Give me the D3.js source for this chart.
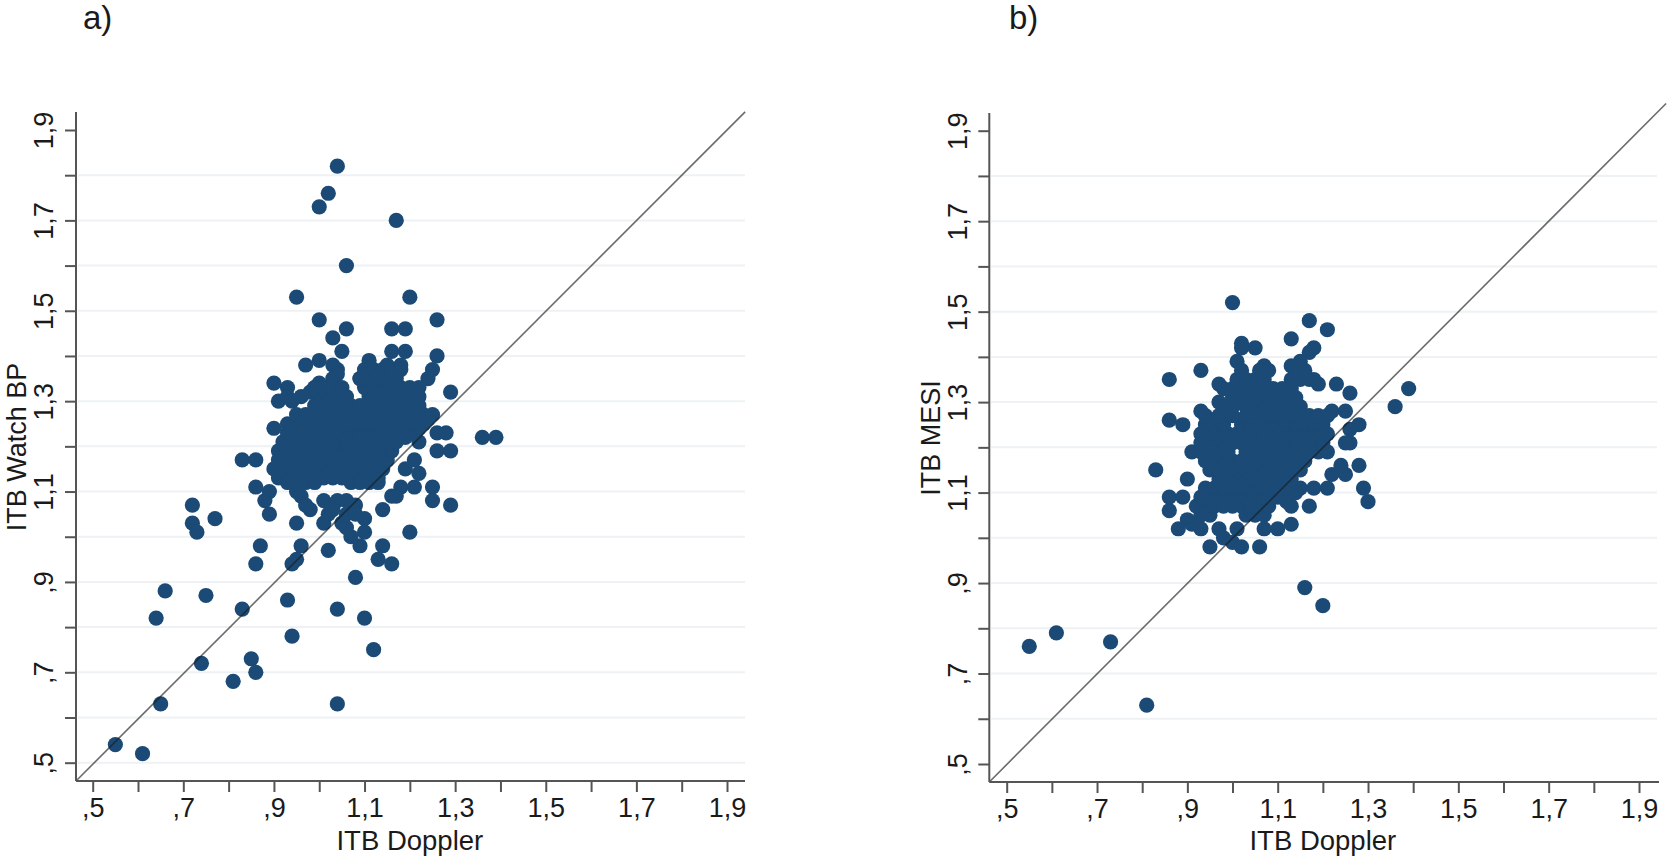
<!DOCTYPE html>
<html>
<head>
<meta charset="utf-8">
<script src="https://cdn.jsdelivr.net/npm/d3@7"></script>
<style>
html, body { margin: 0; padding: 0; background: #fff; }
svg { display: block; }
text { font-family: "Liberation Sans", Arial, sans-serif; fill: #1a1a1a; }
</style>
</head>
<body>
<svg id="chart" width="1667" height="860"></svg>
<script>
// tick values, the axes run from ,5 to 1,9 with a label every 0.2
const tickValues = [.5, .6, .7, .8, .9, 1, 1.1, 1.2, 1.3, 1.4, 1.5, 1.6, 1.7, 1.8, 1.9];
const labelledTicks = [.5, .7, .9, 1.1, 1.3, 1.5, 1.7, 1.9];

// panel a: scattered points [doppler, watch bp]
const watchScatter = [
  [1.04,1.82],[1.02,1.76],[1.00,1.73],[1.17,1.70],[1.06,1.60],[.95,1.53],[1.20,1.53],[1.00,1.48],[1.26,1.48],
  [1.06,1.46],[1.16,1.46],[1.19,1.46],[1.03,1.44],[1.05,1.41],[1.16,1.41],[1.19,1.41],[1.26,1.40],[.97,1.38],
  [1.00,1.39],[1.03,1.38],[1.04,1.37],[1.11,1.39],[1.15,1.38],[1.18,1.38],[1.25,1.37],[1.24,1.35],[1.29,1.32],
  [.90,1.34],[.93,1.33],[.91,1.30],[.96,1.31],[.99,1.33],[.90,1.24],[1.09,1.35],[1.25,1.27],[1.26,1.23],[1.28,1.23],
  [1.26,1.19],[1.29,1.19],[1.22,1.21],[1.21,1.17],[1.19,1.15],[1.22,1.14],[1.18,1.11],[1.21,1.11],[1.25,1.11],
  [1.17,1.09],[1.25,1.08],[1.29,1.07],[1.14,1.06],[1.20,1.01],[1.36,1.22],[1.39,1.22],[.83,1.17],[.86,1.17],
  [.86,1.11],[.89,1.10],[.88,1.08],[.89,1.05],[.72,1.07],[.72,1.03],[.73,1.01],[.77,1.04],[.95,1.03],[.87,.98],
  [.96,.98],[.95,.95],[.94,.94],[.86,.94],[1.02,.97],[1.09,.98],[1.14,.98],[1.13,.95],[1.16,.94],[1.08,.91],
  [.93,.86],[1.04,.84],[1.10,.82],[.94,.78],[1.12,.75],[1.04,.63],[.85,.73],[.86,.70],[.81,.68],[.74,.72],
  [.65,.63],[.55,.54],[.61,.52],[.64,.82],[.66,.88],[.75,.87],[.83,.84],[1.01,1.03],[1.02,1.05],[1.01,1.08],
  [1.04,1.08],[1.06,1.08],[1.08,1.07],[1.10,1.04],[1.10,1.01],[1.07,1.00],[1.05,1.03],[1.06,1.02],[1.03,1.06],
  [1.06,1.05],[1.08,1.05],[.96,1.09],[.98,1.06],[.97,1.07],[.95,1.10],[1.16,1.09],
  [.93,1.31],[.94,1.30],[.98,1.32],[1.00,1.34],[1.04,1.36],[1.03,1.35],[1.24,1.26],[1.22,1.24],[1.20,1.23],[1.19,1.22]
];
// panel a: the dense middle, one row per watch bp value
const watchRows = [
  [1.12, [.93,.95,.97,.99,1.07,1.09,1.11,1.13]],
  [1.13, [.91,.93,.95,.97,.99,1.01,1.03,1.05,1.07,1.09,1.11,1.13]],
  [1.15, [.90,.92,.94,.96,.98,1.00,1.02,1.04,1.06,1.08,1.10,1.12,1.14]],
  [1.17, [.91,.93,.95,.97,.99,1.01,1.03,1.05,1.07,1.09,1.11,1.13,1.15]],
  [1.19, [.91,.93,.95,.97,.99,1.01,1.03,1.05,1.07,1.09,1.11,1.13,1.15,1.16]],
  [1.21, [.92,.94,.96,.98,1.00,1.02,1.04,1.06,1.08,1.10,1.12,1.14,1.16,1.17]],
  [1.23, [.93,.95,.97,.99,1.01,1.03,1.05,1.07,1.09,1.11,1.13,1.15,1.17]],
  [1.25, [.93,.95,.97,.99,1.01,1.03,1.05,1.07,1.09,1.11,1.13,1.15,1.17,1.19,1.21,1.23]],
  [1.27, [.95,.97,1.00,1.02,1.04,1.06,1.08,1.10,1.12,1.14,1.16,1.18,1.20,1.22,1.23]],
  [1.29, [.99,1.01,1.03,1.05,1.07,1.09,1.11,1.13,1.15,1.17,1.19,1.21,1.22]],
  [1.31, [1.00,1.02,1.04,1.06,1.11,1.13,1.15,1.17,1.19,1.21,1.22]],
  [1.33, [.99,1.01,1.03,1.05,1.10,1.12,1.14,1.16,1.18,1.20,1.22]],
  [1.35, [1.09,1.11,1.13,1.15,1.17]],
  [1.37, [1.10,1.12,1.14,1.16,1.18]]
];

// panel b: scattered points [doppler, mesi]
const mesiScatter = [
  [1.00,1.52],[1.17,1.48],[1.21,1.46],[1.13,1.44],[1.05,1.42],[1.02,1.43],[1.02,1.42],[1.18,1.42],[1.17,1.41],
  [1.15,1.39],[1.13,1.38],[1.07,1.38],[1.01,1.39],[.93,1.37],[.86,1.35],[1.23,1.34],[1.26,1.32],[.86,1.26],
  [.89,1.25],[.83,1.15],[.90,1.13],[.93,1.28],[.97,1.30],[.97,1.34],[1.19,1.34],[1.25,1.28],[1.22,1.28],[1.28,1.25],
  [1.26,1.24],[1.26,1.21],[1.25,1.21],[1.28,1.16],[1.24,1.16],[1.22,1.14],[1.25,1.14],[1.29,1.11],[1.30,1.08],
  [1.39,1.33],[1.36,1.29],[.86,1.09],[.89,1.09],[.86,1.06],[.90,1.04],[.91,1.03],[.93,1.02],[.88,1.02],[.97,1.02],
  [.98,1.00],[1.01,1.02],[1.00,.99],[1.02,.98],[.95,.98],[1.06,.98],[1.07,1.02],[1.10,1.02],[1.13,1.03],[1.17,1.07],
  [1.13,1.07],[1.12,1.08],[1.18,1.11],[1.21,1.11],[1.15,1.11],[1.14,1.10],[1.16,.89],[1.20,.85],[.55,.76],[.61,.79],
  [.73,.77],[.81,.63],[.98,1.27],[.95,1.26]
];
// panel b: the dense middle, one row per mesi value
const mesiRows = [
  [1.05, [.93,.95,1.03,1.05,1.07]],
  [1.07, [.92,.94,.96,.98,1.00,1.02,1.04,1.06,1.08]],
  [1.09, [.93,.95,.97,.99,1.01,1.03,1.05,1.07,1.09,1.10]],
  [1.11, [.94,.96,.98,1.00,1.02,1.04,1.06,1.08,1.10,1.12]],
  [1.13, [.97,.99,1.01,1.03,1.05,1.07,1.09,1.11,1.13]],
  [1.15, [.95,.97,.99,1.01,1.03,1.05,1.07,1.09,1.11,1.13,1.15]],
  [1.17, [.94,.96,.98,1.00,1.02,1.04,1.06,1.08,1.10,1.12,1.14,1.16]],
  [1.19, [.91,.93,.95,.97,.99,1.03,1.05,1.07,1.09,1.11,1.13,1.15,1.17,1.19,1.21]],
  [1.21, [.93,.95,.98,1.00,1.02,1.04,1.06,1.08,1.10,1.12,1.14,1.16,1.18,1.20]],
  [1.23, [.93,.95,.97,.99,1.01,1.03,1.05,1.07,1.09,1.11,1.13,1.15,1.17,1.19,1.21]],
  [1.25, [.94,.96,.98,1.02,1.04,1.06,1.08,1.10,1.12,1.14,1.16,1.18,1.20]],
  [1.27, [.94,.97,1.00,1.03,1.05,1.07,1.09,1.11,1.13,1.15,1.17,1.19,1.21]],
  [1.29, [.98,1.00,1.03,1.05,1.07,1.09,1.11,1.13,1.15]],
  [1.31, [1.00,1.02,1.04,1.06,1.08,1.10,1.12,1.14]],
  [1.33, [.98,1.00,1.02,1.04,1.06,1.08,1.09,1.11,1.13]],
  [1.35, [1.01,1.03,1.05,1.07,1.13,1.15,1.17,1.18]],
  [1.37, [1.02,1.06,1.08,1.14,1.16]]
];

const DOT_COLOR = "#1a4a75";
const AXIS_COLOR = "#555555";
const GRID_COLOR = "#eef2f4";

function tickLabel(v) {
    // decimal comma and no leading zero, like the stata labels
    if (!labelledTicks.includes(v)) return "";
    return d3.format(".1f")(v).replace(/^0/, "").replace(".", ",");
}

function rowsToPoints(rows) {
    let pts = [];
    rows.forEach(function(r) {
        r[1].forEach(function(x) { pts.push([x, r[0]]); });
    });
    return pts;
}

function drawPanel(svg, info) {
    // scales are set from where ,5 and 1,9 sit on each axis
    let x = d3.scaleLinear().domain([.5, 1.9]).range([info.x05, info.x19]);
    let y = d3.scaleLinear().domain([.5, 1.9]).range([info.y05, info.y19]);
    let xMin = x.invert(info.left), xMax = x.invert(info.right);
    let yMin = y.invert(info.bottom), yMax = y.invert(info.top);

    // horizontal grid
    svg.append("g").selectAll("line")
        .data(tickValues.filter(function(v) { return v < 1.9 && v >= info.gridFrom; }))
        .join("line")
        .attr("x1", info.left + 2)
        .attr("x2", info.gridEnd)
        .attr("y1", function(d) { return y(d); })
        .attr("y2", function(d) { return y(d); })
        .attr("stroke", GRID_COLOR)
        .attr("stroke-width", 2);

    // points
    svg.append("g").selectAll("circle")
        .data(info.points)
        .join("circle")
        .attr("cx", function(d) { return x(d[0]); })
        .attr("cy", function(d) { return y(d[1]); })
        .attr("r", 7.6)
        .attr("fill", DOT_COLOR);

    // 45 degree line
    svg.append("line")
        .attr("x1", x(xMin)).attr("y1", y(yMin))
        .attr("x2", x(info.lineEnd)).attr("y2", y(info.lineEnd))
        .attr("stroke", "#1c1c1c")
        .attr("stroke-opacity", .65)
        .attr("stroke-width", 1.6);

    // axes
    let xAxis = d3.axisBottom(x).tickValues(tickValues).tickFormat(tickLabel).tickSize(11).tickPadding(6);
    let gx = svg.append("g").attr("transform", "translate(0," + info.bottom + ")").call(xAxis);
    gx.select(".domain").remove();
    gx.append("line")
        .attr("x1", x(xMin)).attr("x2", x(xMax))
        .attr("stroke", AXIS_COLOR).attr("stroke-width", 2);

    let yAxis = d3.axisLeft(y).tickValues(tickValues).tickFormat(tickLabel).tickSize(11).tickPadding(0);
    let gy = svg.append("g").attr("transform", "translate(" + info.left + ",0)").call(yAxis);
    gy.select(".domain").remove();
    gy.append("line")
        .attr("y1", y(yMin)).attr("y2", y(yMax))
        .attr("stroke", AXIS_COLOR).attr("stroke-width", 2);

    svg.selectAll(".tick line").attr("stroke", AXIS_COLOR).attr("stroke-width", 2);
    gx.selectAll(".tick text").attr("font-size", 27).attr("fill", "#1a1a1a").attr("font-family", "Liberation Sans");
    // axisLeft puts each tick in its own translated group, so only x is offset here
    gy.selectAll(".tick text")
        .attr("font-size", 27)
        .attr("fill", "#1a1a1a")
        .attr("font-family", "Liberation Sans")
        .attr("text-anchor", "middle")
        .attr("dy", 0)
        .attr("x", 0).attr("y", 0)
        .attr("transform", "translate(" + (info.yLabelX - info.left) + ",0) rotate(-90)");

    // titles
    svg.append("text")
        .attr("x", (x(.5) + x(1.9)) / 2 + info.xTitleShift)
        .attr("y", 850)
        .attr("text-anchor", "middle")
        .attr("font-size", 27.5)
        .text("ITB Doppler");
    svg.append("text")
        .attr("transform", "translate(" + info.yTitleX + "," + info.yTitleY + ") rotate(-90)")
        .attr("text-anchor", "middle")
        .attr("font-size", 27)
        .text(info.yTitle);
    svg.append("text")
        .attr("x", info.tagX)
        .attr("y", 29)
        .attr("font-size", 33)
        .text(info.tag);
}

const svg = d3.select("#chart");

drawPanel(svg, {
    tag: "a)", tagX: 83,
    yTitle: "ITB Watch BP", yTitleX: 26, yTitleY: 447, xTitleShift: 0,
    yLabelX: 53,
    left: 76, right: 745, top: 112, bottom: 781,
    x05: 92.7, x19: 727, y05: 762.7, y19: 130,
    lineEnd: 1.94, gridEnd: 745, gridFrom: .5,
    points: watchScatter.concat(rowsToPoints(watchRows))
});

drawPanel(svg, {
    tag: "b)", tagX: 1009,
    yTitle: "ITB MESI", yTitleX: 940, yTitleY: 438, xTitleShift: 0,
    yLabelX: 967,
    left: 989.3, right: 1659, top: 113, bottom: 782,
    x05: 1006.7, x19: 1639, y05: 764, y19: 130.7,
    lineEnd: 1.96, gridEnd: 1657, gridFrom: .6,
    points: mesiScatter.concat(rowsToPoints(mesiRows))
});
</script>
</body>
</html>
